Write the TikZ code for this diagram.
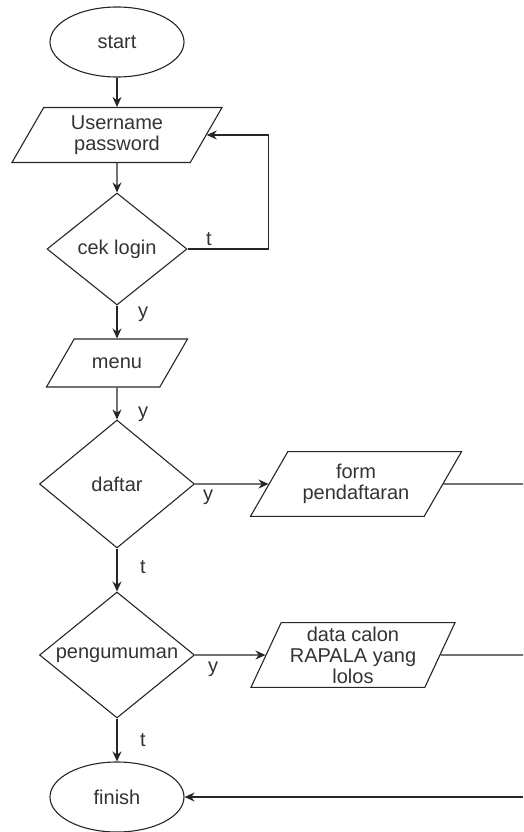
\documentclass[tikz,border=0pt]{standalone}
\usepackage{fontspec}
\setmainfont{Liberation Sans}
\usetikzlibrary{shapes.geometric,arrows.meta}

\begin{document}
\begin{tikzpicture}[x=1pt,y=-1pt,line width=1.1pt,draw=black!85,
    every node/.style={font=\fontsize{20}{21}\selectfont,text=black!80},
    terminal/.style={draw,ellipse,minimum width=134pt,minimum height=70pt,inner sep=0pt},
    io/.style={draw,trapezium,trapezium left angle=60,trapezium right angle=120,
      trapezium stretches body,inner xsep=0pt,align=center},
    decision/.style={draw,diamond,aspect=1.2,inner sep=0pt},
    flow/.style={-{Stealth[length=10pt,width=9pt]}}]
      \useasboundingbox (0,0) rectangle (523,832);
      % main column
      \node[terminal] (start) at (117,42) {start};
      \node[io,inner ysep=8pt,minimum width=210pt] (user) at (117,135) {Username\\password};
      \node[decision,minimum width=140pt,minimum height=112pt] (login) at (117,249) {cek login};
      \node[io,inner ysep=18.5pt,minimum width=141pt] (menu) at (117,363) {menu};
      \node[decision,minimum width=155pt,minimum height=128pt] (daftar) at (117,484) {daftar};
      \node[decision,minimum width=155pt,minimum height=126pt] (umum) at (117,655) {pengumuman};
      \node[terminal] (finish) at (117,797) {finish};
      % outputs on the right
      \node[io,inner ysep=12.5pt,minimum width=211pt] (form) at (356,484) {form\\pendaftaran};
      \node[io,trapezium left angle=65,trapezium right angle=115,inner ysep=4pt,
        minimum width=204pt] (lolos) at (353,655) {data calon\\RAPALA yang\\lolos};
      \coordinate (formout) at (523,484);
      \coordinate (lolosout) at (523,655);
      \coordinate (finishin) at (523,797);
      % arrows
      \draw[flow] (start) -- (user);
      \draw[flow] (user) -- (login);
      \draw[flow] (login) -- (menu);
      \draw[flow] (menu) -- (daftar);
      \draw[flow] (daftar) -- (umum);
      \draw[flow] (umum) -- (finish);
      \draw[flow] (login.east) -- ++(81,0) |- (user.east);
      \draw[flow] (daftar) -- (form);
      \draw[flow] (umum) -- (lolos);
      \draw (form) -- (formout);
      \draw (lolos) -- (lolosout);
      \draw[flow] (finishin) -- (finish);
      % branch labels
      \node (tlogin) at (209,239) {t};
      \node (ylogin) at (143,314) {y};
      \node (ymenu) at (143,414) {y};
      \node (ydaftar) at (208,497) {y};
      \node (tdaftar) at (143,567) {t};
      \node (yumum) at (213,669) {y};
      \node (tumum) at (143,740) {t};
      %\draw[gray,very thin] (0,0) grid[step=50] (523,832);
    \end{tikzpicture}
\end{document}
